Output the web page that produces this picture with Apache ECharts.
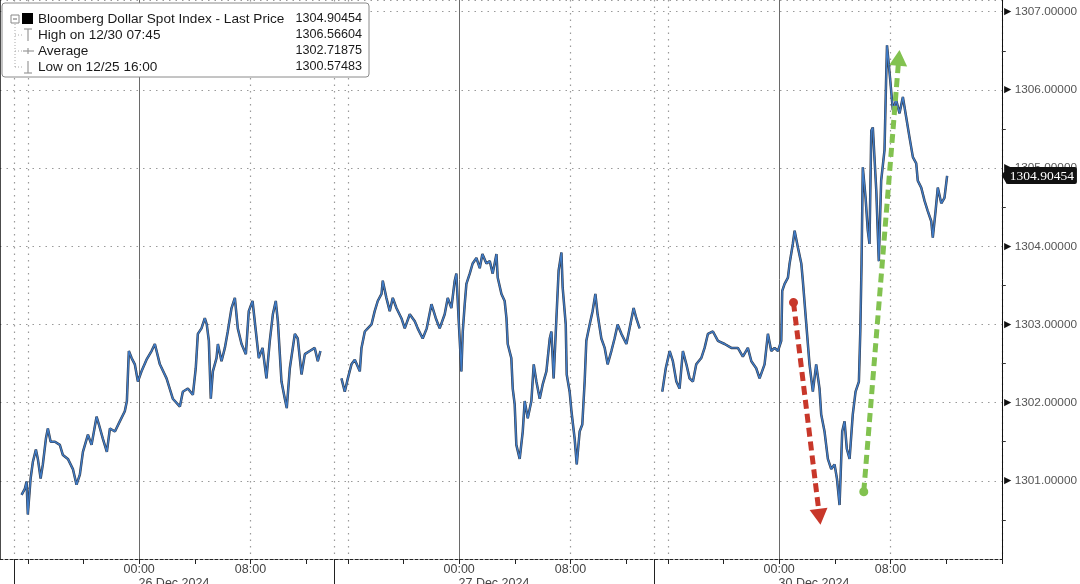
<!DOCTYPE html>
<html><head><meta charset="utf-8">
<script src="https://cdn.jsdelivr.net/npm/echarts/dist/echarts.min.js"></script>
<style>html,body{margin:0;padding:0;background:#fff}#c{width:1080px;height:584px}</style>
</head><body><div id="c"></div><script>
// Gapless session clock: hours since 12/25 15:00; each session runs 15:00 -> 14:00
const sessionStartHour = 15;
const sessionOffsets = [0, 23, 46];
const axisStart = -1, axisEnd = 71;
const sessionDates = ['26 Dec 2024', '27 Dec 2024', '30 Dec 2024'];
const tickLabelByClock = {0: '00:00', 8: '08:00'};
const yMin = 1300, yMax = 1307.15, yStep = 1;

const s1Time = [0.55,0.79,0.91,1.0,1.2,1.36,1.58,1.72,1.92,2.08,2.3,2.44,2.64,2.95,3.3,3.52,3.88,4.24,4.5,4.74,4.96,5.32,5.58,5.94,6.11,6.39,6.68,6.9,7.26,7.61,7.97,8.12,8.26,8.46,8.69,8.91,9.17,9.53,9.89,10.13,10.49,10.97,11.42,11.93,12.14,12.5,12.86,13.07,13.22,13.48,13.72,13.86,14.01,14.15,14.3,14.56,14.66,14.92,15.16,15.37,15.64,15.88,16.09,16.36,16.67,16.88,17.15,17.39,17.6,17.87,18.15,18.39,18.61,18.82,18.97,19.23,19.47,19.61,19.83,20.19,20.4,20.67,20.91,21.26,21.62,21.84,22.03];
const s1Price = [1300.82,1300.9,1300.99,1300.57,1301.03,1301.24,1301.4,1301.28,1301.03,1301.21,1301.54,1301.67,1301.5,1301.5,1301.46,1301.33,1301.28,1301.15,1300.95,1301.08,1301.37,1301.59,1301.46,1301.82,1301.72,1301.54,1301.37,1301.67,1301.63,1301.76,1301.89,1302.02,1302.66,1302.57,1302.49,1302.27,1302.4,1302.55,1302.66,1302.75,1302.49,1302.31,1302.05,1301.95,1302.14,1302.18,1302.1,1302.44,1302.88,1302.95,1303.08,1303.0,1302.79,1302.05,1302.4,1302.57,1302.75,1302.53,1302.7,1302.91,1303.21,1303.34,1302.95,1302.75,1302.62,1303.17,1303.3,1302.91,1302.57,1302.7,1302.31,1302.79,1303.13,1303.3,1303.04,1302.27,1302.05,1301.93,1302.44,1302.88,1302.82,1302.36,1302.62,1302.66,1302.7,1302.53,1302.66];

const s2Time = [23.54,23.78,24.0,24.26,24.5,24.86,24.98,25.22,25.43,25.7,25.93,26.15,26.42,26.51,26.77,27.01,27.23,27.49,27.85,28.09,28.45,28.81,29.02,29.38,29.67,30.01,30.32,30.6,30.96,31.18,31.44,31.68,31.8,31.97,32.16,32.26,32.4,32.52,32.76,32.97,33.24,33.48,33.67,33.96,34.2,34.41,34.68,34.77,35.04,35.27,35.4,35.49,35.75,35.85,35.99,36.11,36.35,36.57,36.71,36.93,37.19,37.36,37.55,37.79,38.0,38.27,38.51,38.63,38.79,38.99,39.15,39.35,39.44,39.66,39.73,39.94,40.07,40.3,40.45,40.66,40.85,41.02,41.14,41.38,41.59,41.79,41.95,42.22,42.46,42.67,42.94,43.17,43.39,43.66,44.02,44.25,44.54,44.73,44.97];
const s2Price = [1302.31,1302.14,1302.31,1302.49,1302.55,1302.4,1302.7,1302.91,1302.95,1303.0,1303.17,1303.3,1303.39,1303.56,1303.34,1303.17,1303.34,1303.21,1303.08,1302.95,1303.13,1303.04,1302.95,1302.82,1302.95,1303.26,1303.08,1302.95,1303.13,1303.34,1303.21,1303.56,1303.65,1303.04,1302.4,1302.91,1303.26,1303.52,1303.65,1303.78,1303.85,1303.72,1303.9,1303.78,1303.81,1303.65,1303.9,1303.6,1303.39,1303.3,1303.08,1302.75,1302.57,1302.18,1301.98,1301.46,1301.28,1301.63,1302.02,1301.8,1302.02,1302.49,1302.27,1302.05,1302.23,1302.4,1302.82,1302.91,1302.31,1303.08,1303.69,1303.92,1303.47,1303.0,1302.36,1302.14,1301.89,1301.54,1301.21,1301.63,1301.72,1302.27,1302.79,1303.0,1303.17,1303.39,1303.13,1302.82,1302.7,1302.49,1302.66,1302.82,1303.0,1302.88,1302.75,1302.95,1303.21,1303.08,1302.95];

const s3Time = [46.6,46.85,47.13,47.36,47.61,47.84,48.08,48.33,48.56,48.8,49.04,49.4,49.64,49.88,50.24,50.6,51.08,51.56,52.03,52.39,52.75,53.0,53.35,53.59,53.95,54.19,54.43,54.67,54.91,55.15,55.22,55.39,55.63,55.75,55.98,56.11,56.35,56.59,56.7,56.95,57.18,57.42,57.66,57.9,58.02,58.26,58.5,58.74,58.98,59.15,59.34,59.53,59.7,59.86,60.06,60.29,60.49,60.73,60.83,60.92,61.01,61.21,61.37,61.49,61.62,61.73,61.98,62.16,62.33,62.57,62.68,62.75,62.98,63.17,63.41,63.65,63.89,64.13,64.37,64.61,64.85,64.96,65.21,65.45,65.68,65.93,66.04,66.24,66.4,66.65,66.88,67.07];
const s3Price = [1302.14,1302.44,1302.66,1302.53,1302.27,1302.18,1302.66,1302.49,1302.31,1302.27,1302.49,1302.57,1302.7,1302.88,1302.91,1302.79,1302.75,1302.7,1302.7,1302.59,1302.7,1302.53,1302.44,1302.31,1302.49,1302.88,1302.66,1302.7,1302.66,1302.79,1303.43,1303.52,1303.6,1303.78,1304.03,1304.2,1303.98,1303.78,1303.56,1303.0,1302.49,1302.14,1302.49,1302.18,1301.85,1301.63,1301.28,1301.15,1301.21,1301.03,1300.69,1301.63,1301.76,1301.41,1301.28,1301.85,1302.14,1302.27,1302.91,1303.78,1305.01,1304.62,1304.2,1304.03,1305.48,1305.52,1304.71,1303.81,1304.84,1305.23,1306.09,1306.57,1306.13,1305.74,1305.87,1305.7,1305.91,1305.65,1305.39,1305.14,1305.06,1304.84,1304.75,1304.58,1304.45,1304.32,1304.11,1304.45,1304.75,1304.55,1304.62,1304.9];

const lastPrice = 1304.90454;
const legendNames = ['Bloomberg Dollar Spot Index - Last Price', 'High on 12/30 07:45', 'Average', 'Low on 12/25 16:00'];
const legendValues = ['1304.90454', '1306.56604', '1302.71875', '1300.57483'];
const redArrow = [[56.03, 1303.28], [57.9, 1300.54]];
const greenArrow = [[61.08, 1300.86], [63.6, 1306.41]];

function sessionOf(t) { let s = 0; sessionOffsets.forEach((o, i) => { if (t >= o) s = i; }); return s; }
function clockOf(t) { const s = sessionOf(t); return (((sessionStartHour + t - sessionOffsets[s]) % 24) + 24) % 24; }
function isBoundary(t) { return sessionOffsets.indexOf(t) >= 0; }
const hours = []; for (let t = axisStart; t <= axisEnd; t++) hours.push(t);
const categories = hours.map(t => String(clockOf(t)).padStart(2, '0') + ':00');
const tOf = i => hours[i];

const FONT = 'Liberation Sans';
function mkSeries(times, prices, color, width, z, extra) {
  return Object.assign({
    type: 'line', xAxisIndex: 0, yAxisIndex: 0, showSymbol: false, symbol: 'none',
    lineStyle: {color: color, width: width}, itemStyle: {color: color}, z: z, silent: true,
    data: times.map((t, i) => [t, prices[i]])
  }, extra || {});
}
function arrowLine(pts, color) {
  return [{coord: pts[0], symbol: 'circle', symbolSize: 9, lineStyle: {color: color, width: 5, type: [9, 5]}},
          {coord: pts[1], symbol: 'triangle', symbolSize: [18, 16]}];
}
const sessions = [[s1Time, s1Price], [s2Time, s2Price], [s3Time, s3Price]];
const series = [];
sessions.forEach(s => series.push(mkSeries(s[0], s[1], '#353b47', 2.5, 2)));
sessions.forEach((s, i) => series.push(mkSeries(s[0], s[1], '#3f7bc6', 1.4, 3, i === 2 ? {
  markLine: {silent: true, animation: false, label: {show: false}, z: 5,
    data: [arrowLine(redArrow, '#c8372a'), arrowLine(greenArrow, '#82c250')]}
} : {})));

const chart = echarts.init(document.getElementById('c'), null, {renderer: 'canvas'});
const option = {
  animation: false,
  backgroundColor: '#fff',
  grid: {left: 0, right: 78, top: 0, bottom: 25, containLabel: false},
  xAxis: [
    {type: 'value', min: axisStart, max: axisEnd, position: 'bottom',
     axisLine: {show: true, onZero: false, lineStyle: {color: '#222', type: [3, 2], width: 1}},
     axisTick: {show: false}, axisLabel: {show: false}, splitLine: {show: false}},
    {type: 'category', data: categories, boundaryGap: false, position: 'bottom',
     axisLine: {show: false, onZero: false},
     axisTick: {show: true, length: 5, lineStyle: {color: '#222'},
       interval: (i) => { const t = tOf(i); return !isBoundary(t) && clockOf(t) % 4 === 0; }},
     axisLabel: {color: '#444', fontSize: 12.5, fontFamily: FONT, margin: 4,
       interval: (i) => tickLabelByClock[clockOf(tOf(i))] !== undefined},
     splitLine: {show: true, lineStyle: {color: '#9a9a9a', type: [1.5, 5], width: 1.2},
       interval: (i) => { const t = tOf(i); const c = clockOf(t); return isBoundary(t) || c === 16 || c === 8; }}},
    {type: 'category', data: categories, boundaryGap: false, position: 'bottom',
     axisLine: {show: false, onZero: false},
     axisTick: {show: true, length: 30, lineStyle: {color: '#222'}, interval: (i) => isBoundary(tOf(i))},
     axisLabel: {show: false},
     splitLine: {show: true, lineStyle: {color: '#6a6a6a', width: 1}, interval: (i) => clockOf(tOf(i)) === 0}}
  ],
  yAxis: [
    {type: 'value', position: 'right', min: yMin, max: yMax, interval: yStep,
     axisLine: {show: true, onZero: false, lineStyle: {color: '#111', width: 1}},
     axisTick: {show: false},
     minorTick: {show: true, splitNumber: 2, length: 4, lineStyle: {color: '#333'}},
     minorSplitLine: {show: false},
     splitLine: {show: true, lineStyle: {color: '#9a9a9a', type: [1.5, 5], width: 1.2}},
     axisLabel: {showMaxLabel: false, showMinLabel: false, margin: 0,
       formatter: v => '{a|►}{b|' + v.toFixed(5) + '}',
       rich: {a: {fontSize: 12, color: '#111', padding: [0, 1, 0, 0]}, b: {fontSize: 11.8, color: '#555', fontFamily: FONT}}},
     axisPointer: {show: true, status: 'show', value: lastPrice, snap: false, triggerTooltip: false,
       lineStyle: {opacity: 0},
       label: {show: true, backgroundColor: '#111', color: '#fff', fontFamily: 'Liberation Serif', fontSize: 13.5,
         padding: [2, 3, 1, 4], borderRadius: 2, margin: 4, formatter: p => Number(p.value).toFixed(5)}}},
    {type: 'value', position: 'left', min: yMin, max: yMax, interval: yStep,
     axisLine: {show: true, onZero: false, lineStyle: {color: '#111', width: 1.5}},
     axisTick: {show: false}, minorTick: {show: false}, axisLabel: {show: false}, splitLine: {show: false}}
  ],
  series: series
};
chart.setOption(option);

// Legend box, last-price pointer and session date labels
const rowY = i => 19 + 16 * i;
const g = [];
g.push({type: 'rect', shape: {x: 2, y: 3, width: 367, height: 74, r: 3}, style: {fill: '#fff', stroke: '#8a8a8a', lineWidth: 1}, z: 10});
g.push({type: 'line', shape: {x1: 15, y1: 24, x2: 15, y2: rowY(3)}, style: {stroke: '#aaa', lineDash: [1, 2]}, z: 11});
[1, 2, 3].forEach(i => g.push({type: 'line', shape: {x1: 15, y1: rowY(i), x2: 22, y2: rowY(i)}, style: {stroke: '#aaa', lineDash: [1, 2]}, z: 11}));
g.push({type: 'rect', shape: {x: 11, y: 15, width: 8, height: 8}, style: {fill: '#fff', stroke: '#888'}, z: 11});
g.push({type: 'line', shape: {x1: 13, y1: 19, x2: 17, y2: 19}, style: {stroke: '#666'}, z: 12});
g.push({type: 'rect', shape: {x: 22, y: 13, width: 11, height: 11}, style: {fill: '#000'}, z: 11});
g.push({type: 'line', shape: {x1: 24, y1: 29, x2: 32, y2: 29}, style: {stroke: '#999', lineWidth: 1.2}, z: 11});
g.push({type: 'line', shape: {x1: 28, y1: 29, x2: 28, y2: 41}, style: {stroke: '#999', lineWidth: 1.2}, z: 11});
g.push({type: 'line', shape: {x1: 23, y1: 51, x2: 34, y2: 51}, style: {stroke: '#999', lineWidth: 1.2}, z: 11});
g.push({type: 'line', shape: {x1: 28, y1: 48, x2: 28, y2: 54}, style: {stroke: '#999', lineWidth: 1.2}, z: 11});
g.push({type: 'line', shape: {x1: 28, y1: 61, x2: 28, y2: 73}, style: {stroke: '#999', lineWidth: 1.2}, z: 11});
g.push({type: 'line', shape: {x1: 24, y1: 73, x2: 32, y2: 73}, style: {stroke: '#999', lineWidth: 1.2}, z: 11});
legendNames.forEach((n, i) => {
  g.push({type: 'text', x: 38, y: rowY(i), style: {text: n, fill: '#1a1a1a', font: '13.6px ' + FONT, verticalAlign: 'middle', textAlign: 'left'}, z: 12});
  g.push({type: 'text', x: 362, y: rowY(i), style: {text: legendValues[i], fill: '#1a1a1a', font: '12.6px ' + FONT, verticalAlign: 'middle', textAlign: 'right'}, z: 12});
});
const plotBottom = chart.convertToPixel({yAxisIndex: 0}, yMin);
const axisX = chart.convertToPixel({xAxisIndex: 0}, axisEnd);
const lastY = chart.convertToPixel({yAxisIndex: 0}, lastPrice);
g.push({type: 'polygon', shape: {points: [[axisX, lastY], [axisX + 5, lastY - 8.5], [axisX + 5, lastY + 8.5]]}, style: {fill: '#111'}, z: 60});
sessionDates.forEach((d, i) => {
  const cx = chart.convertToPixel({xAxisIndex: 0}, sessionOffsets[i] + 11.5);
  g.push({type: 'text', x: cx, y: plotBottom + 18, style: {text: d, fill: '#444', font: '12.5px ' + FONT, textAlign: 'center', verticalAlign: 'top'}, z: 12});
});
chart.setOption({graphic: g});
</script></body></html>
